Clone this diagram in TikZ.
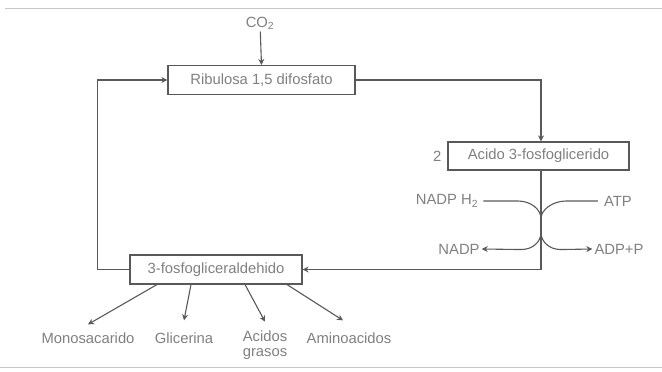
\documentclass[tikz,border=0pt]{standalone}
\usepackage{fontspec}
\setmainfont{Liberation Sans}
\usetikzlibrary{positioning,arrows.meta}
\definecolor{ink}{gray}{0.35}
\definecolor{txt}{gray}{0.5}

\begin{document}
\begin{tikzpicture}[x=1pt, y=-1pt,
  nodes={text=txt, font=\fontsize{14.8}{16}\selectfont, inner sep=2pt},
  box/.style = {draw=ink, line width=1.1pt, minimum height=29pt},
  line/.style = {ink, line width=1.1pt},
  arr/.style = {line, -{Stealth[length=6pt, width=6pt]}},
  edge/.style = {gray!45, line width=0.6pt}
  ]
  \useasboundingbox (0,0) rectangle (662,372);
  \draw[edge] (5,8) -- (662,8);
  \draw[edge] (0,367) -- (662,367);

  \node (co2) at (260,23) {CO\textsubscript{2}};
  \node[box, minimum width=187pt] (ribulosa) at (261.5,80) {Ribulosa 1,5 difosfato};
  \node[box, minimum width=181pt, minimum height=28pt] (acido) at (538.5,156) {Acido 3-fosfoglicerido};
  \node (dos) [left=4pt of acido] {2};
  \node[box, minimum width=172pt] (gliceraldehido) at (216,269.5) {3-fosfogliceraldehido};

  \node (nadph) at (447,201) {NADP H\textsubscript{2}};
  \node (atp)   at (618,201) {ATP};
  \node (nadp)  at (459,249) {NADP};
  \node (adp)   at (619,249) {ADP+P};

  \node (mono)  at (88,338)  {Monosacarido};
  \node (glic)  at (184,338) {Glicerina};
  \node[align=center, font=\fontsize{14.8}{14.5}\selectfont] (grasos) at (265,345) {Acidos\\grasos};
  \node (amino) at (349,338) {Aminoacidos};

  % ciclo
  \draw[arr] (co2) -- (ribulosa.north);
  \draw[arr] (ribulosa.east) -| ([xshift=2.5pt]acido.north);
  \draw[arr] ([xshift=2.5pt]acido.south) |- (gliceraldehido.east);
  \draw[arr] (gliceraldehido.west) -- ++(-32,0) |- (ribulosa.west);

  % NADPH2 y ATP
  \path ([xshift=2.5pt]acido.south) ++(0,48) coordinate (merge) ++(0,14) coordinate (split);
  \coordinate (n1) at (518,201);
  \coordinate (a1) at (566,201);
  \coordinate (p1) at ([xshift=-20pt,yshift=-17pt]split);
  \coordinate (q1) at ([xshift=20pt,yshift=-17pt]split);
  \draw[line] ([xshift=3pt]nadph.east) -- (n1) .. controls ([xshift=13pt]n1) and ([yshift=9pt]merge) .. (merge);
  \draw[line] ([xshift=-4pt]atp.west) -- (a1) .. controls ([xshift=-13pt]a1) and ([yshift=9pt]merge) .. (merge);
  \draw[arr] (split) .. controls ([yshift=-9pt]split) and ([xshift=12pt]p1) .. (p1) -- (nadp.east);
  \draw[arr] (split) .. controls ([yshift=-9pt]split) and ([xshift=-12pt]q1) .. (q1) -- (adp.west);

  % productos
  \draw[arr] ([xshift=-59pt]gliceraldehido.south) -- ([yshift=6pt]mono.north);
  \draw[arr] ([xshift=-25pt]gliceraldehido.south) -- ([yshift=10pt]glic.north);
  \draw[arr] ([xshift=29pt]gliceraldehido.south) -- ([yshift=7pt]grasos.north);
  \draw[arr] ([xshift=71pt]gliceraldehido.south) -- ([xshift=-6pt,yshift=10pt]amino.north);
\end{tikzpicture}
\end{document}
